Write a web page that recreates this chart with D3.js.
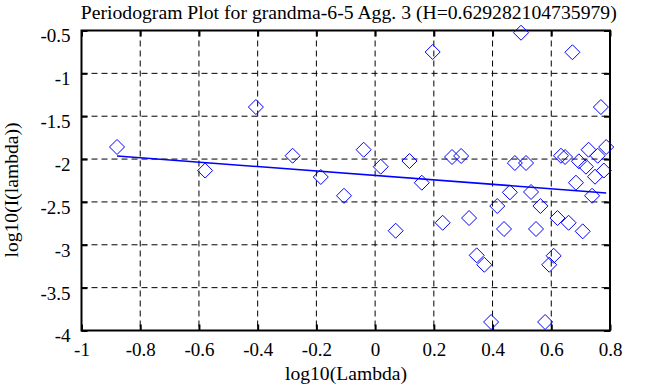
<!DOCTYPE html>
<html>
<head>
<meta charset="utf-8">
<script src="https://cdn.jsdelivr.net/npm/d3@7"></script>
<style>
  body { margin: 0; background: #fff; }
  svg text { font-family: "Liberation Serif", "Times New Roman", serif !important; fill: #000; }
</style>
</head>
<body>
<div id="container"></div>
<script>
// periodogram points, log10(lambda) vs log10(I(lambda))
var xVals = [-0.879, -0.579, -0.406, -0.281, -0.185, -0.106, -0.039, 0.019, 0.070, 0.117,
             0.196, 0.159, 0.230, 0.262, 0.293, 0.497, 0.672, 0.769, 0.320, 0.346,
             0.372, 0.395, 0.416, 0.439, 0.459, 0.476, 0.514, 0.531, 0.563, 0.548,
             0.579, 0.593, 0.608, 0.621, 0.633, 0.647, 0.659, 0.684, 0.694, 0.707,
             0.718, 0.727, 0.739, 0.749, 0.758, 0.779, 0.787];
var yVals = [-1.859, -2.134, -1.393, -1.961, -2.209, -2.428, -1.891, -2.089, -2.836, -2.023,
             -0.751, -2.276, -2.743, -1.976, -1.964, -0.526, -0.754, -1.393, -2.688, -3.123,
             -3.233, -3.901, -2.548, -2.816, -2.388, -2.046, -2.046, -2.384, -2.548, -2.816,
             -3.901, -3.233, -3.128, -2.688, -1.961, -1.976, -2.743, -2.276, -2.026, -2.843,
             -2.089, -1.891, -2.428, -2.206, -1.961, -2.134, -1.859];

// least squares fit: slope = 1 - 2H
var fitSlope = -0.2586, fitIntercept = -2.191;
var xTicks = [-1, -0.8, -0.6, -0.4, -0.2, 0, 0.2, 0.4, 0.6, 0.8];
var yTicks = [-4, -3.5, -3, -2.5, -2, -1.5, -1, -0.5];
var title = "Periodogram Plot for grandma-6-5 Agg. 3 (H=0.629282104735979)";

var width = 658, height = 387;
var pLeft = 81.5, pRight = 610, pTop = 30.5, pBottom = 330.5;

var svg = d3.select('#container').append('svg')
    .attr("width", width)
    .attr("height", height);

var x = d3.scaleLinear().domain([-1, 0.8]).range([pLeft, pRight]);
var y = d3.scaleLinear().domain([-4, -0.5]).range([pBottom, pTop]);

// grid
var grid = svg.append('g').attr('class', 'grid');
grid.selectAll('line.vx')
    .data(xTicks.slice(1, -1))
    .enter().append('line')
    .attr('x1', function(d) { return x(d); })
    .attr('x2', function(d) { return x(d); })
    .attr('y1', pTop).attr('y2', pBottom)
    .attr('stroke', '#000').attr('stroke-width', 1)
    .attr('stroke-dasharray', '6,4');
grid.selectAll('line.hy')
    .data(yTicks.slice(1, -1))
    .enter().append('line')
    .attr('y1', function(d) { return y(d); })
    .attr('y2', function(d) { return y(d); })
    .attr('x1', pLeft).attr('x2', pRight)
    .attr('stroke', '#000').attr('stroke-width', 1)
    .attr('stroke-dasharray', '6,4');

// axes with inward ticks
var fmt = function(d) { return String(d); };
var xAxis = svg.append('g')
    .attr('transform', 'translate(0,' + pBottom + ')')
    .call(d3.axisBottom(x).tickValues(xTicks).tickSize(-6).tickPadding(12).tickFormat(fmt));
var xTop = svg.append('g')
    .attr('transform', 'translate(0,' + pTop + ')')
    .call(d3.axisTop(x).tickValues(xTicks).tickSize(-6).tickFormat(''));
var yAxis = svg.append('g')
    .attr('transform', 'translate(' + pLeft + ',0)')
    .call(d3.axisLeft(y).tickValues(yTicks).tickSize(-6).tickPadding(11).tickFormat(fmt));
var yRight = svg.append('g')
    .attr('transform', 'translate(' + pRight + ',0)')
    .call(d3.axisRight(y).tickValues(yTicks).tickSize(-6).tickFormat(''));

[xAxis, xTop, yAxis, yRight].forEach(function(a) {
  a.attr('font-family', null).attr('font-size', null);
  a.select('.domain').remove();
  a.selectAll('.tick line').attr('stroke', '#000').attr('stroke-width', 2);
  a.selectAll('text').style('font-size', '19px');
});
yAxis.selectAll('text').attr('dy', '0.6em');

// frame
svg.append('rect')
    .attr('x', pLeft).attr('y', pTop)
    .attr('width', pRight - pLeft).attr('height', pBottom - pTop)
    .attr('fill', 'none').attr('stroke', '#000').attr('stroke-width', 2);

// fitted line
var x0 = d3.min(xVals), x1 = d3.max(xVals);
svg.append('line')
    .attr('x1', x(x0)).attr('y1', y(fitIntercept + fitSlope * x0))
    .attr('x2', x(x1)).attr('y2', y(fitIntercept + fitSlope * x1))
    .attr('stroke', '#0000ff').attr('stroke-width', 1.5);

// diamonds
var pts = xVals.map(function(d, i) { return {x: d, y: yVals[i]}; });
svg.append('g')
    .selectAll('path')
    .data(pts)
    .enter().append('path')
    .attr('d', function(d) {
      var cx = x(d.x), cy = y(d.y), r = 7.5;
      return 'M' + cx + ',' + (cy - r) + 'L' + (cx + r) + ',' + cy +
             'L' + cx + ',' + (cy + r) + 'L' + (cx - r) + ',' + cy + 'Z';
    })
    .attr('fill', 'none')
    .attr('stroke', '#0000ff')
    .attr('stroke-width', 1);

// labels
svg.append('text')
    .attr('x', (pLeft + pRight) / 2 + 3).attr('y', 19)
    .attr('text-anchor', 'middle')
    .attr('textLength', 536)
    .attr('lengthAdjust', 'spacingAndGlyphs')
    .style('font-size', '19px')
    .text(title);
svg.append('text')
    .attr('x', 346).attr('y', 380)
    .attr('text-anchor', 'middle')
    .attr('textLength', 122)
    .attr('lengthAdjust', 'spacingAndGlyphs')
    .style('font-size', '19px')
    .text('log10(Lambda)');
svg.append('text')
    .attr('transform', 'translate(18,' + 190 + ') rotate(-90)')
    .attr('text-anchor', 'middle')
    .attr('textLength', 135)
    .attr('lengthAdjust', 'spacingAndGlyphs')
    .style('font-size', '19px')
    .text('log10(I(lambda))');
</script>
</body>
</html>
